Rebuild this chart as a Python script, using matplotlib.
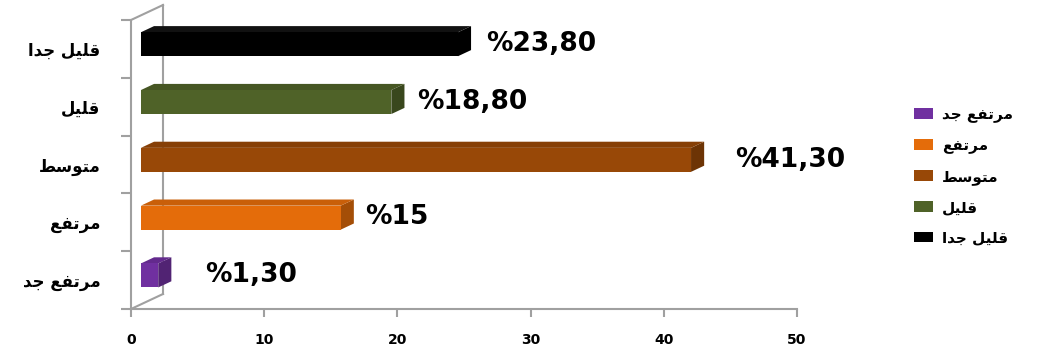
import matplotlib
matplotlib.use('Agg')
import matplotlib.pyplot as plt
from matplotlib.patches import Polygon, Patch

# categories from bottom to top
categories = ['مرتفع جد', 'مرتفع', 'متوسط', 'قليل', 'قليل جدا']
values = [1.3, 15, 41.3, 18.8, 23.8]
value_labels = ['%1,30', '%15', '%41,30', '%18,80', '%23,80']
colors = ['#7030A0', '#E46C0A', '#984807', '#4F6228', '#000000']
x_ticks = [0, 10, 20, 30, 40, 50]

# label nudges in pixels (hand placed in the original)
label_gap = [34, 11, 31, 13, 15]

# ---- arabic shaping (matplotlib draws letters isolated, left to right)
FORMS = {
    'ا': (0xFE8D, 0xFE8E, None, None),
    'د': (0xFEA9, 0xFEAA, None, None),
    'ر': (0xFEAD, 0xFEAE, None, None),
    'و': (0xFEED, 0xFEEE, None, None),
    'ق': (0xFED5, 0xFED6, 0xFED7, 0xFED8),
    'ل': (0xFEDD, 0xFEDE, 0xFEDF, 0xFEE0),
    'ي': (0xFEF1, 0xFEF2, 0xFEF3, 0xFEF4),
    'ج': (0xFE9D, 0xFE9E, 0xFE9F, 0xFEA0),
    'م': (0xFEE1, 0xFEE2, 0xFEE3, 0xFEE4),
    'ت': (0xFE95, 0xFE96, 0xFE97, 0xFE98),
    'س': (0xFEB1, 0xFEB2, 0xFEB3, 0xFEB4),
    'ط': (0xFEC1, 0xFEC2, 0xFEC3, 0xFEC4),
    'ف': (0xFED1, 0xFED2, 0xFED3, 0xFED4),
    'ع': (0xFEC9, 0xFECA, 0xFECB, 0xFECC),
}


def dual(ch):
    return ch in FORMS and FORMS[ch][2] is not None


def shape(word):
    out = []
    for i, ch in enumerate(word):
        if ch not in FORMS:
            out.append(ch)
            continue
        prev = word[i - 1] if i > 0 else ''
        nxt = word[i + 1] if i + 1 < len(word) else ''
        jp = dual(prev)
        jn = dual(ch) and nxt in FORMS
        iso, fin, ini, med = FORMS[ch]
        if jp and jn:
            c = med
        elif jp:
            c = fin
        elif jn:
            c = ini
        else:
            c = iso
        out.append(chr(c))
    return ''.join(reversed(out))


plt.rcParams['font.family'] = ['DejaVu Sans']

W, H = 1041, 350
fig = plt.figure(figsize=(W / 100, H / 100), dpi=100)
ax_l, ax_b, ax_w, ax_h = 131, 41, 666, 289
ax = fig.add_axes([ax_l / W, ax_b / H, ax_w / W, ax_h / H])
ax.set_xlim(0, 50)
ax.set_ylim(-0.5, len(categories) - 0.5)

kx = ax_w / 50.0
ky = ax_h / float(len(categories))
DX, DY = 32, 15          # depth of the 3d box, pixels
f1, f2 = 0.31, 0.72      # bar front / back depth
bar_h = 0.415
gray = '#A0A0A0'


def proj(x, y, d):
    return (x + d * DX / kx, y + d * DY / ky)


def darker(c, k):
    c = matplotlib.colors.to_rgb(c)
    return tuple(v * k for v in c)


# back wall and floor edges
top = len(categories) - 0.5
for a, b in [(proj(0, -0.5, 1), proj(0, top, 1)),
             (proj(0, top, 0), proj(0, top, 1)),
             (proj(0, -0.5, 0), proj(0, -0.5, 1))]:
    ax.plot([a[0], b[0]], [a[1], b[1]], color=gray, lw=1.5, clip_on=False, zorder=1)

for i, v in enumerate(values):
    y0, y1 = i - bar_h / 2, i + bar_h / 2
    c = colors[i]
    front = [proj(0, y0, f1), proj(v, y0, f1), proj(v, y1, f1), proj(0, y1, f1)]
    topf = [proj(0, y1, f1), proj(v, y1, f1), proj(v, y1, f2), proj(0, y1, f2)]
    side = [proj(v, y0, f1), proj(v, y0, f2), proj(v, y1, f2), proj(v, y1, f1)]
    ax.add_patch(Polygon(side, closed=True, facecolor=darker(c, 0.72), edgecolor='none', zorder=3, clip_on=False))
    ax.add_patch(Polygon(topf, closed=True, facecolor=darker(c, 0.88) if c != '#000000' else '#111111',
                         edgecolor='none', zorder=3, clip_on=False))
    ax.add_patch(Polygon(front, closed=True, facecolor=c, edgecolor='none', zorder=4, clip_on=False))
    lx, ly = proj(v, i, f2)
    ax.text(lx + label_gap[i] / kx, i + 0.5 * (f1 + f2) * DY / ky - 0.05, value_labels[i],
            fontsize=19, fontweight='bold', va='center', ha='left', zorder=5)

for s in ['top', 'right']:
    ax.spines[s].set_visible(False)
for s in ['left', 'bottom']:
    ax.spines[s].set_color(gray)
    ax.spines[s].set_linewidth(1.5)

ax.set_xticks(x_ticks)
ax.set_xticklabels([str(t) for t in x_ticks], fontsize=10, fontweight='bold')
ax.tick_params(axis='x', length=6, width=1.5, color=gray, pad=11)

ax.set_yticks(range(len(categories)))
ax.set_yticklabels([shape(c) for c in categories], fontsize=12, fontweight='bold')
ax.set_yticks([i - 0.5 for i in range(len(categories) + 1)], minor=True)
ax.tick_params(axis='y', which='major', length=0, pad=22)
ax.tick_params(axis='y', which='minor', length=7, width=1.5, color=gray)

handles = [Patch(facecolor=c, edgecolor='none') for c in colors]
fig.legend(handles, [shape(c) for c in categories], loc='center left',
           bbox_to_anchor=(900 / W, 1 - 176 / H), frameon=False,
           prop={'size': 11, 'weight': 'bold'}, labelspacing=1.0,
           handlelength=1.25, handleheight=0.7, handletextpad=0.6)

fig.savefig('out.png', dpi=100, facecolor='white')
